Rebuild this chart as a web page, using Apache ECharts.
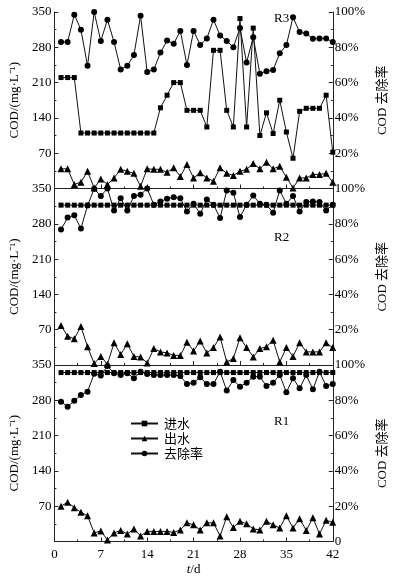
<!DOCTYPE html>
<html>
<head>
<meta charset="utf-8">
<script src="https://cdn.jsdelivr.net/npm/echarts@6/dist/echarts.min.js"></script>
<style>
html,body{margin:0;padding:0;background:#fff;}
#c{width:397px;height:578px;}
</style>
</head>
<body>
<div id="c"></div>
<script>
const days = [1,2,3,4,5,6,7,8,9,10,11,12,13,14,15,16,17,18,19,20,21,22,23,24,25,26,27,28,29,30,31,32,33,34,35,36,37,38,39,40,41,42];
const xTicks = [0,7,14,21,28,35,42];
const panelNames = ['R3','R2','R1'];
const seriesNames = ['进水','出水','去除率'];

// R3
const in3 = [220,220,220,110,110,110,110,110,110,110,110,110,110,110,110,160,185,210,210,155,155,155,122,274,274,155,122,337,122,318,105,150,109,175,112,60,153,159,159,159,185,72];
const out3 = [39,39,8,12.5,34,1,19,8,21,38,34,30,4.6,39,38,38,32,41,24,47.6,21,31,21,14.5,41,30,26,34,38,49.6,39,52,39,44,22.4,1,21,21,28,28,30,12.5];
const rate3 = [83,83,98.5,90,69.5,100,83.6,95.6,83,67.4,69.5,75.6,97.9,66,67.4,77,83.8,82,89.3,70,89.3,81.3,85,95.6,86.7,83.6,80,91,71.4,85.7,65,66.5,67.2,76.6,81.3,97,88.6,87.8,84.8,85,85,83];

// R2
const in2 = [317,317,317,317,317,317,317,317,317,317,317,317,317,317,317,317,317,317,317,317,317,317,317,317,317,317,317,317,317,317,317,317,317,317,317,317,317,317,317,317,317,317];
const out2 = [78.5,57,52,76.5,36,3,17,1.6,44,21,42,17,16,4,32.5,26,24,19,19,45,28,47.7,24,34.5,55.6,6,12.8,54,34.5,16,32.5,36,49,6,34.5,17,44,26,26,26,44,34.5];
const rate2 = [76.7,83.5,84.8,77.3,90.4,99.8,95.7,100,87.6,94.5,87.6,95.7,96.5,100,90.8,92.7,94.2,95.1,94.5,87,91.4,85.7,93.8,90.8,83.3,98.9,97.6,83.8,90.8,96,91.4,90.8,86.3,98.9,91.4,95.7,87,92.3,92.7,92.3,87.6,90.8];

// R1
const in1 = [335,335,335,335,335,335,335,335,335,335,335,335,335,335,335,335,335,335,335,335,335,335,335,335,335,335,335,335,335,335,335,335,335,335,335,335,335,335,335,335,335,335];
const out1 = [70,78,67,58,51,17,21,3,17,22,15,25,11,20,20,20,20,18,23,37,33,23,37,37,11,49,28,40,35,25,23,40,33,27,51,27,45,22,47,15,42,38];
const rate1 = [79.2,76.4,79.8,83,84.9,95,94,99.4,95.3,94.3,95.3,92.5,96.2,94.9,94.3,94.3,94.3,94.3,93.8,89.2,90,93,89.2,89.2,96.2,85.5,91.5,87.7,90,93.4,93.4,88.1,90,94.3,84.5,92.5,86.8,94.3,86.2,96.2,88.1,89.2];

const panels = [[in3,out3,rate3],[in2,out2,rate2],[in1,out1,rate1]];

const FONT = '"Liberation Serif","Noto Sans CJK SC",serif';
const CJK = '"Noto Sans CJK SC","Liberation Serif",sans-serif';
const AX = '#222';

const grids = [
  {left:52, right:46, top:12, height:176.5},
  {left:52, right:46, top:188.5, height:176.5},
  {left:52, right:46, top:365, height:176.5}
];

const xAxes = grids.map((g,i)=>({
  type:'value', gridIndex:i, min:xTicks[0], max:xTicks[xTicks.length-1], interval:7,
  axisLine:{show:true, onZero:false, lineStyle:{color:AX, width:1}},
  axisTick:{show:true, inside:true, length:4, lineStyle:{color:AX}},
  minorTick:{show:true, splitNumber:2, length:2, lineStyle:{color:AX}},
  splitLine:{show:false},
  axisLabel:{show:i===2, color:'#000', fontFamily:FONT, fontSize:13, margin:7},
  name: i===2 ? '{i|t}/d' : '',
  nameLocation:'middle', nameGap:22,
  nameTextStyle:{color:'#000', fontFamily:FONT, fontSize:13, rich:{i:{fontStyle:'italic', fontFamily:FONT, fontSize:13, color:'#000'}}}
}));

const yAxes = [];
grids.forEach((g,i)=>{
  yAxes.push({
    type:'value', gridIndex:i, position:'left', min:0, max:350, interval:70,
    axisLine:{show:true, lineStyle:{color:AX, width:1}},
    axisTick:{show:true, inside:true, length:4, lineStyle:{color:AX}},
    minorTick:{show:true, splitNumber:2, length:2, lineStyle:{color:AX}},
    splitLine:{show:false},
    axisLabel:{color:'#000', fontFamily:FONT, fontSize:13, margin:3,
      formatter:v=> v===0 ? '' : String(v)},
    name:'COD/(mg·L⁻¹)', nameLocation:'middle', nameGap:30, nameRotate:90,
    nameTextStyle:{color:'#000', fontFamily:FONT, fontSize:13}
  });
  yAxes.push({
    type:'value', gridIndex:i, position:'right', min:0, max:100, interval:20,
    axisLine:{show:true, lineStyle:{color:AX, width:1}},
    axisTick:{show:true, inside:true, length:4, lineStyle:{color:AX}},
    minorTick:{show:true, splitNumber:2, length:2, lineStyle:{color:AX}},
    splitLine:{show:false},
    axisLabel:{color:'#000', fontFamily:FONT, fontSize:13, margin:2,
      formatter:v=> v===0 ? (i===2 ? '0' : '') : v+'%'},
    name:'COD 去除率', nameLocation:'middle', nameGap:32, nameRotate:90,
    nameTextStyle:{color:'#000', fontFamily:FONT, fontSize:13}
  });
});

const symbols = ['rect','triangle','circle'];
const sizes = [5,7,6];
const series = [];
panels.forEach((arrs,i)=>{
  arrs.forEach((arr,k)=>{
    series.push({
      name:seriesNames[k], type:'line', xAxisIndex:i, yAxisIndex: k===2 ? 2*i+1 : 2*i,
      data: days.map((d,j)=>[d, arr[j]]),
      symbol:symbols[k], symbolSize:sizes[k], showAllSymbol:true,
      lineStyle:{color:'#111', width:1}, itemStyle:{color:'#000'},
      emphasis:{disabled:true}, silent:true
    });
  });
});

const chart = echarts.init(document.getElementById('c'), null, {renderer:'canvas'});
chart.setOption({
  animation:false,
  backgroundColor:'#fff',
  grid:grids,
  xAxis:xAxes,
  yAxis:yAxes,
  legend:{
    data:seriesNames, orient:'vertical', left:130, top:417,
    itemWidth:27, itemHeight:7, itemGap:2,
    textStyle:{color:'#000', fontFamily:CJK, fontSize:13, padding:[0,0,0,1]},
    padding:0
  },
  graphic: panelNames.map((n,i)=>({
    type:'text', left: 274, top: [12,231,415][i],
    style:{text:n, fill:'#000', font:'13px "Liberation Serif"'}
  })),
  series:series
});
</script>
</body>
</html>
